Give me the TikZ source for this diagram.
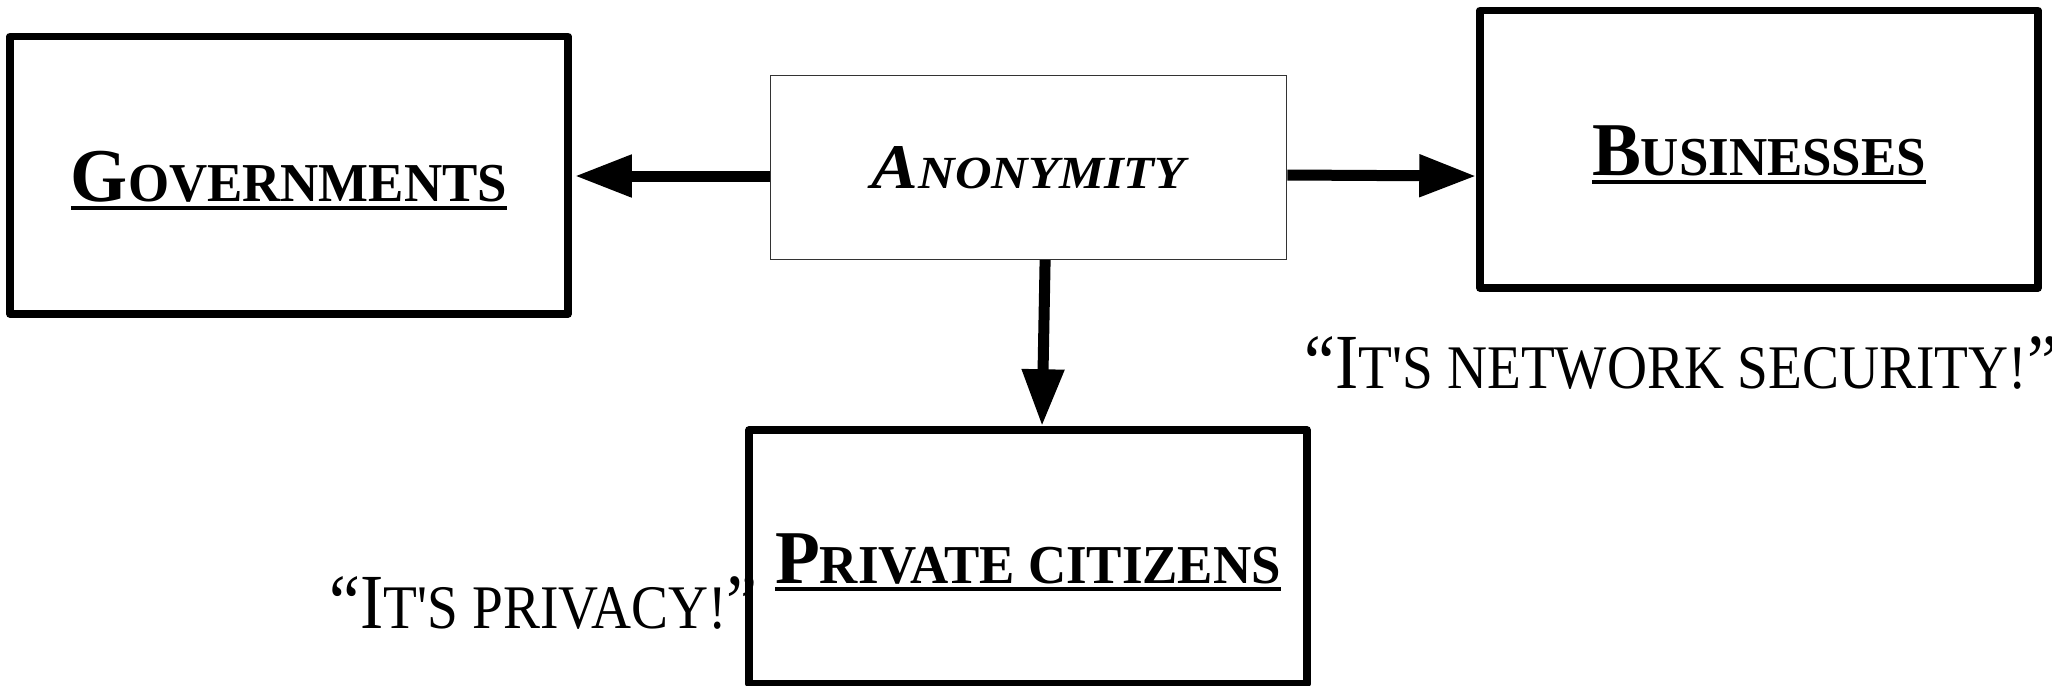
\documentclass[tikz,border=0pt]{standalone}
\usepackage{fontspec}
\setmainfont{Liberation Serif}
\usepackage{graphicx}
\usetikzlibrary{arrows.meta}

% capital at one size, the rest of the word at a smaller size (small-caps look)
\newcommand\twosize[4]{{\fontsize{#1}{#1}\selectfont #2}{\fontsize{#3}{#3}\selectfont #4}}
% heavy underline under a whole label
\newsavebox\ulinebox
\newcommand\ulined[1]{\sbox\ulinebox{#1}\rlap{\rule[-2.1pt]{\wd\ulinebox}{1pt}}\usebox\ulinebox}
\newcommand\boxname[2]{\ulined{\scalebox{0.965}[1]{\bfseries\twosize{19pt}{#1}{13.7pt}{#2}}}}
\newcommand\quotetext[3]{\scalebox{0.893}[1]{\twosize{19.5pt}{#1}{15.5pt}{#2}{\fontsize{19.5pt}{19.5pt}\selectfont #3}}}

\begin{document}
\begin{tikzpicture}[x=0.25pt,y=-0.25pt,
  actor/.style={draw, line width=1.875pt, line join=round, minimum width=139.5pt,
    minimum height=69.4pt, inner sep=0pt, text height=13pt, text depth=0pt},
  topic/.style={draw=black!80, line width=0.35pt, minimum width=129pt,
    minimum height=46pt, inner sep=0pt, text height=10.5pt, text depth=0pt},
  flow/.style={line width=2.75pt, -{Triangle[length=14.25pt,width=10pt]}},
  remark/.style={inner sep=0pt, anchor=base west}]
\useasboundingbox (0,0) rectangle (2052,685);

% the central topic
\node[topic] (anon) at (1028.7,167.4)
  {\scalebox{1.1}[1]{\bfseries\itshape\twosize{15.9pt}{A}{11.5pt}{NONYMITY}}};

% the three parties
\node[actor] (gov) at (289,175.25) {\boxname{G}{OVERNMENTS}};
\node[actor] (bus) at (1759,149.25) {\boxname{B}{USINESSES}};
\node[actor, minimum height=63.5pt] (priv) at (1028,557) {\boxname{P}{RIVATE CITIZENS}};

% what each side calls it
\node[remark] (qpriv) at (329,628) {\quotetext{“I}{T\textquotesingle S PRIVACY!}{”}};
\node[remark] (qbus) at (1304,388) {\quotetext{“I}{T\textquotesingle S NETWORK SECURITY!}{”}};

% connectors
\draw[flow, shorten >=0.75pt] ([yshift=-2.15pt]anon.west) -- ([yshift=-2.15pt]anon.west -| gov.east);
\draw[flow] ([yshift=-1.9pt]anon.east) -- ([yshift=-6.7pt]bus.west);
\draw[flow] ([xshift=4.1pt]anon.south) -- ([xshift=3.5pt]priv.north);
\end{tikzpicture}
\end{document}
